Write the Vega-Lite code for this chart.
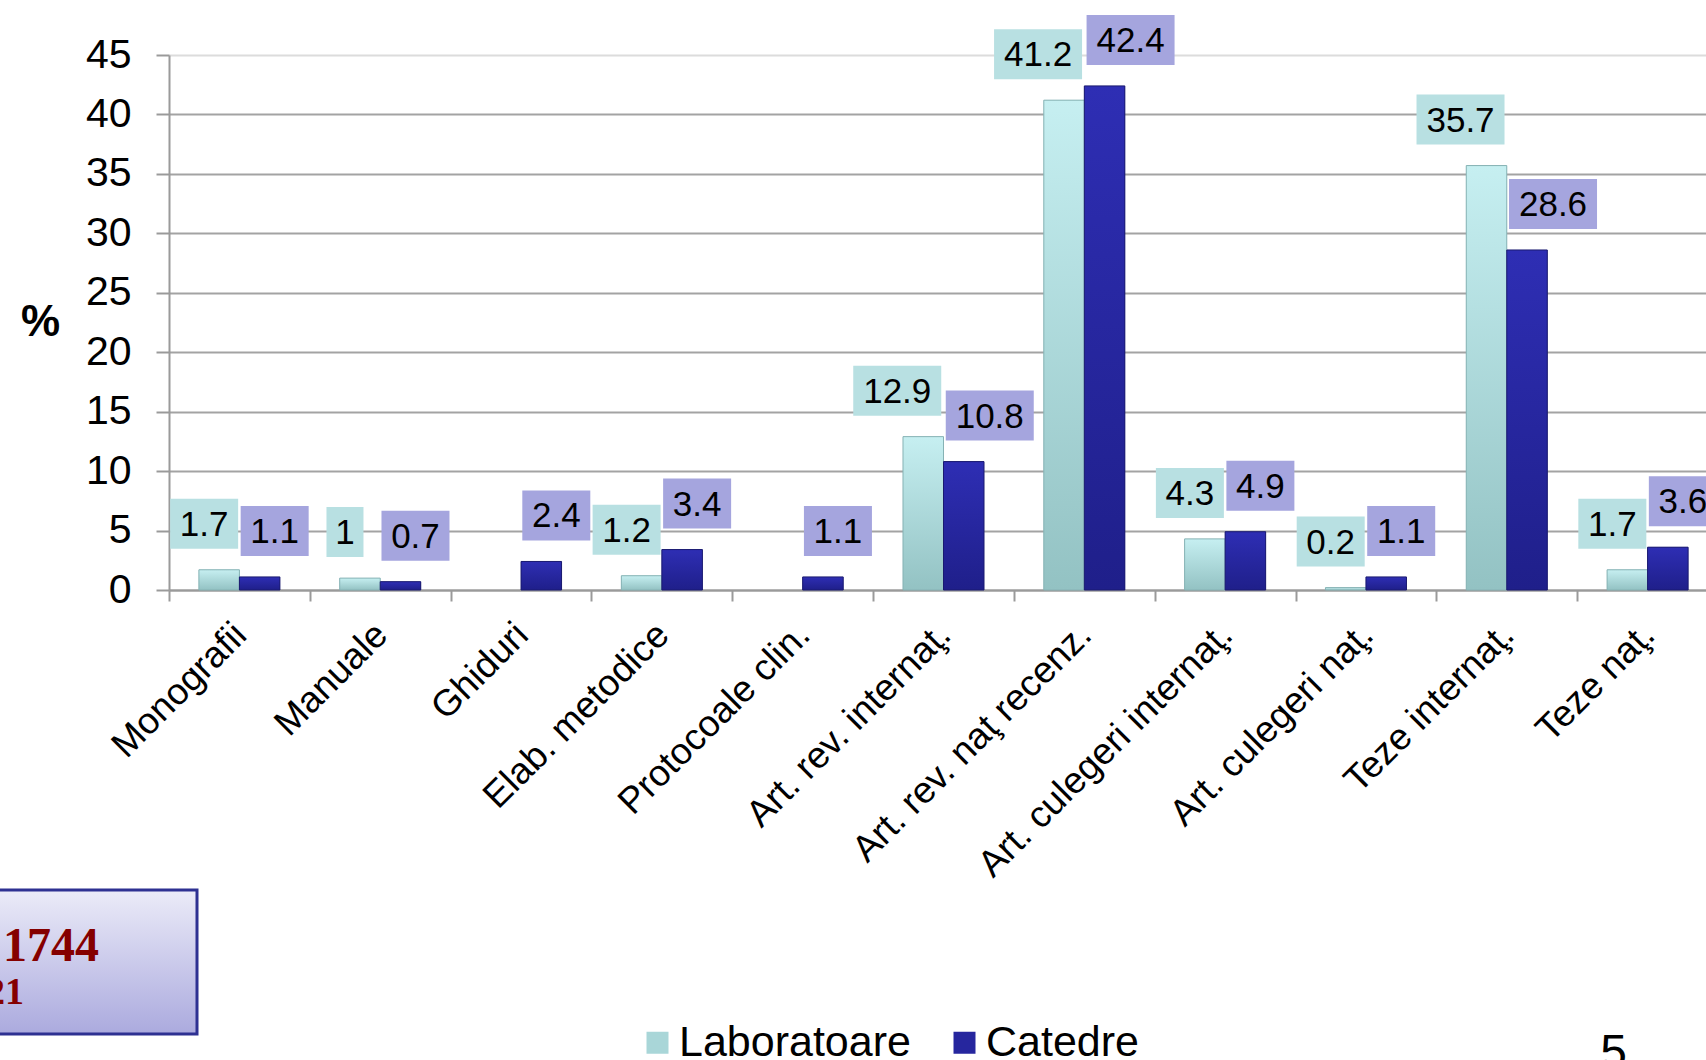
{
  "$schema": "https://vega.github.io/schema/vega-lite/v6.json",
  "autosize": {"type": "none"},
  "width": 1549,
  "height": 535,
  "padding": {"left": 169, "top": 55, "right": 0, "bottom": 470},
  "background": "white",
  "config": {"view": {"stroke": null}, "font": "Liberation Sans"},
  "datasets": {
    "pub": [
      {"cat": "Monografii", "series": "Laboratoare", "value": 1.7},
      {"cat": "Monografii", "series": "Catedre", "value": 1.1},
      {"cat": "Manuale", "series": "Laboratoare", "value": 1},
      {"cat": "Manuale", "series": "Catedre", "value": 0.7},
      {"cat": "Ghiduri", "series": "Catedre", "value": 2.4},
      {"cat": "Elab. metodice", "series": "Laboratoare", "value": 1.2},
      {"cat": "Elab. metodice", "series": "Catedre", "value": 3.4},
      {"cat": "Protocoale clin.", "series": "Catedre", "value": 1.1},
      {"cat": "Art. rev. internaţ.", "series": "Laboratoare", "value": 12.9},
      {"cat": "Art. rev. internaţ.", "series": "Catedre", "value": 10.8},
      {"cat": "Art. rev. naţ recenz.", "series": "Laboratoare", "value": 41.2},
      {"cat": "Art. rev. naţ recenz.", "series": "Catedre", "value": 42.4},
      {"cat": "Art. culegeri internaţ.", "series": "Laboratoare", "value": 4.3},
      {"cat": "Art. culegeri internaţ.", "series": "Catedre", "value": 4.9},
      {"cat": "Art. culegeri naţ.", "series": "Laboratoare", "value": 0.2},
      {"cat": "Art. culegeri naţ.", "series": "Catedre", "value": 1.1},
      {"cat": "Teze internaţ.", "series": "Laboratoare", "value": 35.7},
      {"cat": "Teze internaţ.", "series": "Catedre", "value": 28.6},
      {"cat": "Teze naţ.", "series": "Laboratoare", "value": 1.7},
      {"cat": "Teze naţ.", "series": "Catedre", "value": 3.6}
    ],
    "notes": [
      {"note": "1744", "kind": "big"},
      {"note": "21", "kind": "small"}
    ],
    "page": [{"note": "5"}]
  },
  "layer": [
    {
      "data": {"name": "pub"},
      "encoding": {
        "x": {
          "field": "cat", "type": "nominal", "sort": null,
          "scale": {
            "domain": ["Monografii", "Manuale", "Ghiduri", "Elab. metodice", "Protocoale clin.", "Art. rev. internaţ.", "Art. rev. naţ recenz.", "Art. culegeri internaţ.", "Art. culegeri naţ.", "Teze internaţ.", "Teze naţ."],
            "paddingInner": 0, "paddingOuter": 0
          },
          "axis": {
            "title": null, "labelAngle": -45, "labelAlign": "right", "labelBaseline": "middle",
            "labelFontSize": 37, "labelColor": "black", "labelPadding": 28, "labelOffset": 1,
            "labelLimit": 700, "labelOverlap": false,
            "tickSize": 11, "tickWidth": 2, "tickColor": "#9a9a9a", "tickBand": "extent",
            "domainColor": "#9a9a9a", "domainWidth": 2, "grid": false
          }
        },
        "xOffset": {
          "field": "series", "type": "nominal",
          "scale": {"domain": ["Laboratoare", "Catedre"], "paddingInner": 0, "paddingOuter": 0.738}
        },
        "y": {
          "field": "value", "type": "quantitative",
          "scale": {"domain": [0, 45], "nice": false},
          "axis": {
            "title": "%", "titleAngle": 0, "titleFontSize": 44, "titleFontWeight": "bold", "titleColor": "black",
            "titleX": -129, "titleY": 267, "titleAlign": "center", "titleBaseline": "middle",
            "values": [0, 5, 10, 15, 20, 25, 30, 35, 40, 45],
            "labelFontSize": 41, "labelColor": "black", "labelPadding": 25,
            "tickSize": 13, "tickWidth": 2, "tickColor": "#9a9a9a",
            "domainColor": "#9a9a9a", "domainWidth": 2,
            "gridColor": {"condition": {"test": "datum.value === 45", "value": "#dcdcdc"}, "value": "#a3a3a3"},
            "gridWidth": 2
          }
        }
      },
      "layer": [
        {
          "mark": {"type": "bar"},
          "encoding": {
            "color": {
              "field": "series", "type": "nominal",
              "scale": {"domain": ["Laboratoare", "Catedre"], "range": ["#a9d6d8", "#26269e"]},
              "legend": {
                "title": null, "orient": "none", "legendX": 467, "legendY": 966, "direction": "horizontal",
                "symbolType": "square", "symbolSize": 484, "symbolStrokeWidth": 0, "symbolOpacity": 1,
                "labelFontSize": 43, "labelColor": "black", "labelOffset": 0, "labelLimit": 400,
                "columnPadding": 32, "padding": 0
              }
            }
          }
        },
        {
          "mark": {"type": "bar"},
          "encoding": {
            "fill": {
              "condition": {
                "test": "datum.series === 'Laboratoare'",
                "value": {"gradient": "linear", "x1": 0, "y1": 0, "x2": 0, "y2": 1, "stops": [{"offset": 0, "color": "#c6eff1"}, {"offset": 1, "color": "#93c2c3"}]}
              },
              "value": {"gradient": "linear", "x1": 0, "y1": 0, "x2": 0, "y2": 1, "stops": [{"offset": 0, "color": "#2e2eb4"}, {"offset": 1, "color": "#1f1f8a"}]}
            },
            "stroke": {"condition": {"test": "datum.series === 'Laboratoare'", "value": "#86b2b4"}, "value": "#1a1a70"},
            "strokeWidth": {"value": 1}
          }
        },
        {
          "mark": {"type": "point", "filled": true, "size": 4, "opacity": 1, "strokeWidth": 0},
          "encoding": {
            "fill": {
              "condition": {"test": "datum.series === 'Laboratoare'", "value": "#b8e0e2"},
              "value": "#a5a5de"
            },
            "shape": {
              "condition": [
                {"test": "datum.series === 'Laboratoare' && datum.value >= 10", "value": "M-70,-71H18V-21H-70Z"},
                {"test": "datum.series === 'Laboratoare' && datum.value % 1 === 0", "value": "M-33.5,-71H3.5V-21H-33.5Z"},
                {"test": "datum.series === 'Laboratoare'", "value": "M-49,-71H19V-21H-49Z"},
                {"test": "datum.value >= 10", "value": "M-18,-71H70V-21H-18Z"}
              ],
              "value": "M-19,-71H49V-21H-19Z"
            }
          }
        },
        {
          "transform": [{"filter": "datum.series === 'Laboratoare' && datum.value >= 10"}],
          "mark": {"type": "text", "fontSize": 35, "align": "center", "baseline": "middle", "dy": -45, "dx": -26, "color": "black"},
          "encoding": {"text": {"field": "value", "type": "nominal"}}
        },
        {
          "transform": [{"filter": "datum.series === 'Laboratoare' && datum.value < 10"}],
          "mark": {"type": "text", "fontSize": 35, "align": "center", "baseline": "middle", "dy": -45, "dx": -15, "color": "black"},
          "encoding": {"text": {"field": "value", "type": "nominal"}}
        },
        {
          "transform": [{"filter": "datum.series === 'Catedre' && datum.value >= 10"}],
          "mark": {"type": "text", "fontSize": 35, "align": "center", "baseline": "middle", "dy": -45, "dx": 26, "color": "black"},
          "encoding": {"text": {"field": "value", "type": "nominal"}}
        },
        {
          "transform": [{"filter": "datum.series === 'Catedre' && datum.value < 10"}],
          "mark": {"type": "text", "fontSize": 35, "align": "center", "baseline": "middle", "dy": -45, "dx": 15, "color": "black"},
          "encoding": {"text": {"field": "value", "type": "nominal"}}
        }
      ]
    },
    {
      "data": {"name": "notes"},
      "transform": [{"filter": "datum.kind === 'big'"}],
      "mark": {"type": "point", "filled": true, "size": 4, "opacity": 1, "strokeWidth": 3, "stroke": "#2e3192",
        "shape": "M-400,-72H28V72H-400Z",
        "fill": {"gradient": "linear", "x1": 0, "y1": 0, "x2": 0, "y2": 1, "stops": [{"offset": 0, "color": "#ebebf8"}, {"offset": 1, "color": "#abaade"}]}
      },
      "encoding": {
        "x": {"datum": "Monografii", "bandPosition": 0},
        "y": {"datum": -31.3}
      }
    },
    {
      "data": {"name": "notes"},
      "transform": [{"filter": "datum.kind === 'big'"}],
      "mark": {"type": "text", "font": "Liberation Serif", "fontWeight": "bold", "fontSize": 48, "color": "#850000", "align": "left", "baseline": "alphabetic", "dx": -166, "dy": -1},
      "encoding": {
        "x": {"datum": "Monografii", "bandPosition": 0},
        "y": {"datum": -31.3},
        "text": {"field": "note"}
      }
    },
    {
      "data": {"name": "notes"},
      "transform": [{"filter": "datum.kind === 'small'"}],
      "mark": {"type": "text", "font": "Liberation Serif", "fontWeight": "bold", "fontSize": 38, "color": "#850000", "align": "left", "baseline": "alphabetic", "dx": -183, "dy": 42},
      "encoding": {
        "x": {"datum": "Monografii", "bandPosition": 0},
        "y": {"datum": -31.3},
        "text": {"field": "note"}
      }
    },
    {
      "data": {"name": "page"},
      "mark": {"type": "text", "fontSize": 48, "align": "left", "baseline": "alphabetic", "dx": 23, "dy": 106, "color": "black"},
      "encoding": {
        "x": {"datum": "Teze naţ.", "bandPosition": 0},
        "y": {"datum": -31.3},
        "text": {"field": "note"}
      }
    }
  ]
}
